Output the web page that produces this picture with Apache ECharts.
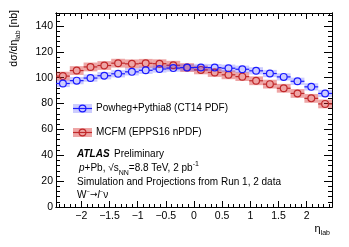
<!DOCTYPE html>
<html><head><meta charset="utf-8">
<script src="https://cdn.jsdelivr.net/npm/echarts@6/dist/echarts.min.js"></script>
<style>html,body{margin:0;padding:0;background:#fff}#c{width:349px;height:247px}</style>
</head><body><div id="c"></div>
<script>
// ---- data ----
const etaCenters = [-2.3275, -2.0825, -1.8375, -1.5925, -1.3475, -1.1025, -0.8575, -0.6125, -0.3675, -0.1225,
                    0.1225, 0.3675, 0.6125, 0.8575, 1.1025, 1.3475, 1.5925, 1.8375, 2.0825, 2.3275];
const binHalfWidth = 0.1225;
const powhegValues = [95.5, 97.7, 99.7, 101.5, 103.0, 104.5, 105.7, 106.7, 107.4, 107.8,
                      107.9, 107.8, 107.3, 106.5, 105.3, 103.2, 100.6, 97.2, 92.9, 87.8];
const powhegErrors = [2.8, 2.8, 2.8, 2.8, 2.8, 2.8, 2.8, 2.8, 2.8, 2.8,
                      2.8, 2.8, 2.8, 2.8, 2.8, 2.8, 2.8, 2.8, 2.8, 2.8];
const mcfmValues = [101.2, 105.5, 108.3, 109.4, 111.2, 110.7, 111.1, 110.8, 109.6, 107.8,
                    106.0, 104.0, 102.2, 100.8, 97.6, 95.0, 91.8, 87.8, 84.0, 79.7];
const mcfmErrors = [3.4, 3.4, 3.4, 3.4, 3.4, 3.4, 3.4, 3.4, 3.4, 3.4,
                    3.4, 3.4, 3.4, 3.4, 3.4, 3.4, 3.4, 3.4, 3.4, 3.4];
const xMajorTicks = [-2, -1.5, -1, -0.5, 0, 0.5, 1, 1.5, 2];
const xMinorTicks = [-2.4,-2.3,-2.2,-2.1,-1.9,-1.8,-1.7,-1.6,-1.4,-1.3,-1.2,-1.1,-0.9,-0.8,-0.7,-0.6,-0.4,-0.3,-0.2,-0.1,
                     0.1,0.2,0.3,0.4,0.6,0.7,0.8,0.9,1.1,1.2,1.3,1.4,1.6,1.7,1.8,1.9,2.1,2.2,2.3,2.4];
const yMajorTicks = [0, 20, 40, 60, 80, 100, 120, 140];
const yMinorTicks = [4,8,12,16,24,28,32,36,44,48,52,56,64,68,72,76,84,88,92,96,104,108,112,116,124,128,132,136,144,148];
const seriesNames = ['Powheg+Pythia8 (CT14 PDF)', 'MCFM (EPPS16 nPDF)'];

const FONT = 'Liberation Sans';
const BLUE = '#1a1aff', BLUE_BAND = 'rgba(40,40,255,0.24)';
const RED = '#c0282a', RED_BAND = 'rgba(215,40,40,0.42)';

function toData(vals, errs){ return etaCenters.map((x,i)=>[x, vals[i], errs[i]]); }

function bandRender(color){
  return function(params, api){
    const x = api.value(0), y = api.value(1), e = api.value(2);
    const a = api.coord([x - binHalfWidth, y + e]);
    const b = api.coord([x + binHalfWidth, y - e]);
    return {type:'rect', shape:{x:a[0], y:a[1], width:b[0]-a[0], height:b[1]-a[1]}, style:{fill:color}};
  };
}
function pointRender(color){
  return function(params, api){
    const x = api.value(0), y = api.value(1);
    const l = api.coord([x - binHalfWidth, y]);
    const r = api.coord([x + binHalfWidth, y]);
    const c = api.coord([x, y]);
    const R = 3.4;
    return {type:'group', children:[
      {type:'line', shape:{x1:l[0], y1:l[1], x2:c[0]-R, y2:c[1]}, style:{stroke:color, lineWidth:1.2}},
      {type:'line', shape:{x1:c[0]+R, y1:c[1], x2:r[0], y2:r[1]}, style:{stroke:color, lineWidth:1.2}},
      {type:'circle', shape:{cx:c[0], cy:c[1], r:R}, style:{fill:'none', stroke:color, lineWidth:1.2}}
    ]};
  };
}
function fmt(v){ return v < 0 ? '\u2212' + Math.abs(v) : String(v); }

const axisLineStyle = {color:'#000', width:1};
function xAx(pos, ticks, len, labels){
  return {type:'value', position:pos, min:-2.45, max:2.45,
    axisLine:{show:true, onZero:false, lineStyle:axisLineStyle},
    axisTick:{show:true, inside:true, length:len, customValues:ticks, lineStyle:{color:'#000', width:1}},
    axisLabel:labels ? {show:true, customValues:xMajorTicks, formatter:fmt, margin:4, color:'#000', fontFamily:FONT, fontSize:10.5} : {show:false},
    splitLine:{show:false}};
}
function yAx(pos, ticks, len, labels){
  return {type:'value', position:pos, min:0, max:150,
    axisLine:{show:true, onZero:false, lineStyle:axisLineStyle},
    axisTick:{show:true, inside:true, length:len, customValues:ticks, lineStyle:{color:'#000', width:1}},
    axisLabel:labels ? {show:true, customValues:yMajorTicks, margin:3, color:'#000', fontFamily:FONT, fontSize:10.5} : {show:false},
    splitLine:{show:false}};
}

const rich = {
  sub:{fontSize:7, fontFamily:FONT, verticalAlign:'bottom', lineHeight:16, padding:[5,0,0,0]},
  sup:{fontSize:7, fontFamily:FONT, verticalAlign:'top', lineHeight:16, padding:[0,0,5,0]},
  sups:{fontSize:6, fontFamily:FONT, verticalAlign:'top', lineHeight:14, padding:[0,0,4,0]},
  it:{fontSize:10, fontFamily:FONT, fontStyle:'italic'},
  n:{fontSize:10, fontFamily:FONT},
  ar:{fontSize:9, fontFamily:'DejaVu Sans'}
};

const chart = echarts.init(document.getElementById('c'), null, {renderer:'canvas'});
chart.setOption({
  animation:false,
  backgroundColor:'#fff',
  grid:{left:56, right:17, top:13, bottom:40, containLabel:false},
  xAxis:[xAx('bottom', xMajorTicks, 6, true), xAx('bottom', xMinorTicks, 3, false),
         xAx('top', xMajorTicks, 6, false), xAx('top', xMinorTicks, 3, false)],
  yAxis:[yAx('left', yMajorTicks, 8, true), yAx('left', yMinorTicks, 4, false),
         yAx('right', yMajorTicks, 8, false), yAx('right', yMinorTicks, 4, false)],
  series:[
    {type:'custom', name:seriesNames[1]+' band', renderItem:bandRender(RED_BAND), data:toData(mcfmValues, mcfmErrors), z:2},
    {type:'custom', name:seriesNames[1], renderItem:pointRender(RED), data:toData(mcfmValues, mcfmErrors), z:3},
    {type:'custom', name:seriesNames[0]+' band', renderItem:bandRender(BLUE_BAND), data:toData(powhegValues, powhegErrors), z:4},
    {type:'custom', name:seriesNames[0], renderItem:pointRender(BLUE), data:toData(powhegValues, powhegErrors), z:5}
  ],
  graphic:[
    // legend
    {type:'rect', left:73, top:104, shape:{width:19, height:9}, style:{fill:BLUE_BAND}},
    {type:'line', shape:{x1:73, y1:108.5, x2:92, y2:108.5}, style:{stroke:BLUE, lineWidth:1.2}},
    {type:'circle', shape:{cx:82.5, cy:108.5, r:3.4}, style:{fill:'none', stroke:BLUE, lineWidth:1.2}},
    {type:'text', x:96, y:108.5, style:{text:seriesNames[0], fontFamily:FONT, fontSize:10, fill:'#000', verticalAlign:'middle'}},
    {type:'rect', left:73, top:128, shape:{width:19, height:9}, style:{fill:RED_BAND}},
    {type:'line', shape:{x1:73, y1:132.5, x2:92, y2:132.5}, style:{stroke:RED, lineWidth:1.2}},
    {type:'circle', shape:{cx:82.5, cy:132.5, r:3.4}, style:{fill:'none', stroke:RED, lineWidth:1.2}},
    {type:'text', x:96, y:132.5, style:{text:seriesNames[1], fontFamily:FONT, fontSize:10, fill:'#000', verticalAlign:'middle'}},
    // ATLAS label
    {type:'text', x:77, y:154.5, style:{text:'ATLAS', fontFamily:FONT, fontSize:10, fontWeight:'bold', fontStyle:'italic', fill:'#000', verticalAlign:'middle'}},
    {type:'text', x:114, y:154.5, style:{text:'Preliminary', fontFamily:FONT, fontSize:10, fill:'#000', verticalAlign:'middle'}},
    {type:'text', x:79, y:168.5, style:{text:'{it|p}{n|+Pb, \u221A}{n|s}{sub|NN}{n|=8.8 TeV, 2 pb}{sup|-1}', rich:rich, fill:'#000', verticalAlign:'middle'}},
    {type:'text', x:77, y:182.5, style:{text:'Simulation and Projections from Run 1, 2 data', fontFamily:FONT, fontSize:10, fill:'#000', verticalAlign:'middle'}},
    {type:'text', x:77, y:195, style:{text:'{n|W}{sups|\u2212}{ar|\u2192}{it|l}{sups|\u2212}{n|\u03BD}', rich:rich, fill:'#000', verticalAlign:'middle'}},
    // axis titles
    {type:'text', x:330, y:229, style:{text:'{n|\u03B7}{sub|lab}', rich:{n:{fontSize:11, fontFamily:FONT}, sub:rich.sub}, fill:'#000', align:'right', verticalAlign:'middle'}},
    {type:'text', x:14, y:10, rotation:Math.PI/2, style:{text:'{n|d\u03C3/d\u03B7}{sub|lab}{n| [nb]}', rich:{n:{fontSize:10.5, fontFamily:FONT}, sub:rich.sub}, fill:'#000', align:'right', verticalAlign:'middle'}}
  ]
});
</script>
</body></html>
